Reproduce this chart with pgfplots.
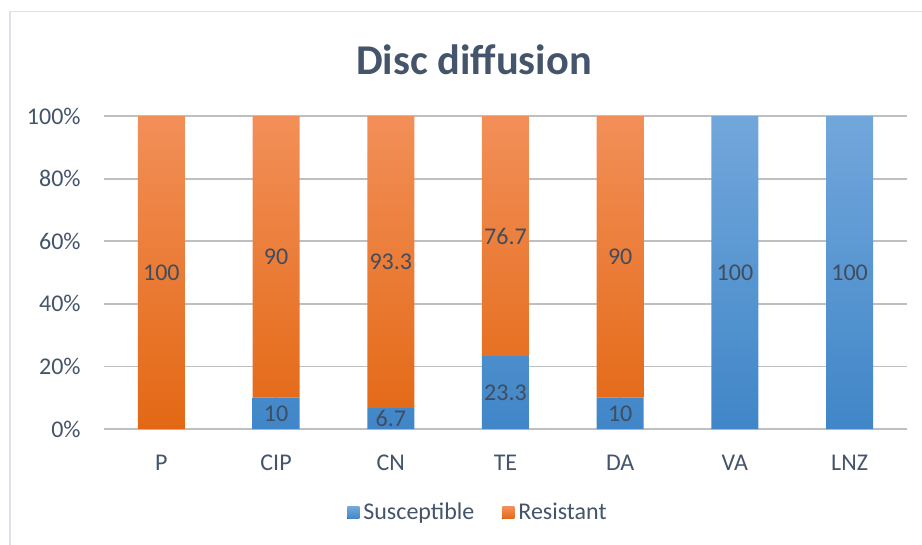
\documentclass[border=0pt]{standalone}
\usepackage{fontspec}
\setmainfont{Carlito}
\usepackage{pgfplots}
\usepackage{pgfplotstable}
\pgfplotsset{compat=1.18}

\definecolor{txt}{HTML}{44546A}
\definecolor{lbl}{HTML}{404D5E}
\definecolor{grid}{HTML}{E1E5EC}
\definecolor{frame}{HTML}{DCE0E8}
\definecolor{bluetop}{RGB}{114,167,219}
\definecolor{bluebot}{RGB}{64,134,200}
\definecolor{ortop}{RGB}{242,143,88}
\definecolor{orbot}{RGB}{227,104,20}

% x  susceptible  resistant  labels
\pgfplotstableread{
x s    r    sl   rl
0 0    100  {}   100
1 10   90   10   90
2 6.7  93.3 6.7  93.3
3 23.3 76.7 23.3 76.7
4 10   90   10   90
5 100  0    100  {}
6 100  0    100  {}
}\disc

\begin{document}
\begin{tikzpicture}[x=1pt,y=1pt]
  \path[use as bounding box] (0,0) rectangle (461,-272.5);
  \draw[frame, line width=0.8pt] (5,-272.5) -- (5,-5.8) -- (461,-5.8);
  \node[txt, font=\fontsize{21.2}{25}\selectfont\bfseries] at (237,-30) {Disc diffusion};

  \begin{axis}[
      at={(52pt,-214.5pt)}, anchor=south west,
      scale only axis,
      width=401.5pt, height=156.5pt,
      ybar stacked,
      bar width=23.5pt,
      xmin=-0.5, xmax=6.5,
      ymin=0, ymax=100,
      axis line style={draw=none},
      major tick length=0pt,
      xtick=data,
      xticklabels={P,CIP,CN,TE,DA,VA,LNZ},
      ytick={0,20,40,60,80,100},
      yticklabels={0\%,20\%,40\%,60\%,80\%,100\%},
      ymajorgrids,
      major grid style={grid, line width=0.9pt},
      tick label style={txt, font=\fontsize{12}{14}\selectfont},
      xticklabel style={anchor=center, yshift=-17pt},
      yticklabel style={anchor=east, inner sep=0pt, xshift=-11.5pt},
      nodes near coords,
      point meta=explicit symbolic,
      every node near coord/.append style={lbl, font=\fontsize{12}{14}\selectfont,
        anchor=center},
      legend style={at={(0.467,-0.268)}, anchor=center, draw=none, fill=none,
        legend columns=2, font=\fontsize{12}{14}\selectfont, text=txt,
        /tikz/every even column/.append style={column sep=12pt}},
      legend cell align=left,
      legend image code/.code={\fill[#1] (1pt,-3pt) rectangle (7pt,3pt);},
    ]
    \addplot[draw=none, top color=bluetop, bottom color=bluebot]
      table[x=x, y=s, meta=sl] {\disc};
    \addplot[draw=none, top color=ortop, bottom color=orbot]
      table[x=x, y=r, meta=rl] {\disc};
    \legend{Susceptible, Resistant}
  \end{axis}
\end{tikzpicture}
\end{document}
